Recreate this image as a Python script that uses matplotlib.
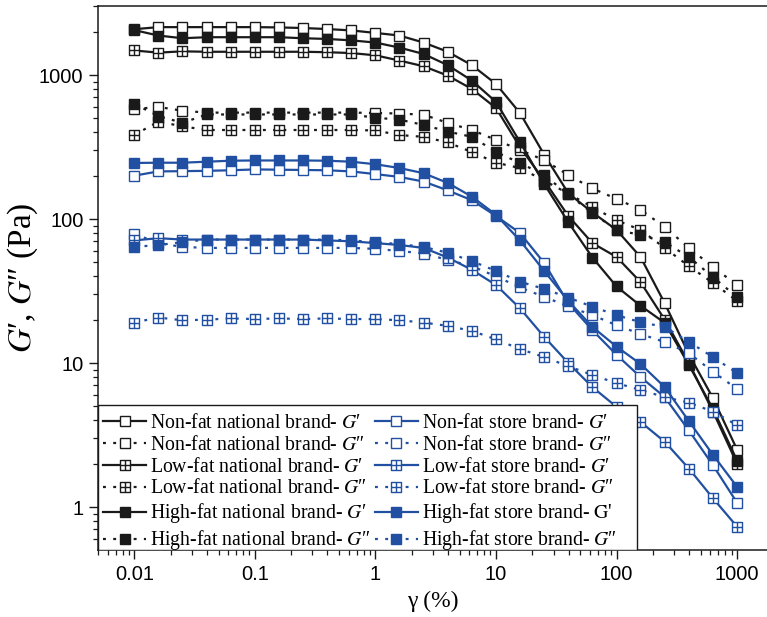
import matplotlib
matplotlib.use("Agg")
import matplotlib.pyplot as plt
from matplotlib.path import Path
from matplotlib.patches import Rectangle
from matplotlib.ticker import LogLocator, FixedLocator, FuncFormatter, NullFormatter

plt.rcParams["mathtext.fontset"] = "stix"

# Shear strain amplitude (%)
strain = [0.01, 0.0158, 0.0251, 0.0398, 0.0631, 0.1, 0.158, 0.251, 0.398, 0.631,
          1, 1.58, 2.51, 3.98, 6.31, 10, 15.8, 25.1, 39.8, 63.1,
          100, 158, 251, 398, 631, 1000]

# National brand moduli (Pa)
nf_nat_Gp = [2080, 2150, 2150, 2150, 2150, 2150, 2140, 2120, 2085, 2040,
             1960, 1880, 1680, 1450, 1170, 866, 545, 280, 151, 111,
             84, 54.5, 26, 11.5, 5.7, 2.5]
nf_nat_Gpp = [580, 600, 565, 548, 548, 548, 548, 548, 548, 548,
              545, 540, 530, 465, 415, 354, 302, 256, 202, 163,
              138, 116, 88, 63, 46.4, 34.8]
lf_nat_Gp = [1480, 1430, 1460, 1450, 1450, 1450, 1450, 1450, 1440, 1420,
             1370, 1260, 1150, 990, 800, 590, 316, 185, 105, 68,
             54.5, 36.5, 20, 10, 4.6, 2.0]
lf_nat_Gpp = [383, 475, 440, 415, 415, 415, 415, 415, 415, 415,
              412, 383, 372, 340, 292, 246, 226, 185, 150, 121,
              98, 84, 63, 47, 36, 27]
hf_nat_Gp = [2050, 1880, 1800, 1830, 1830, 1830, 1830, 1800, 1780, 1740,
             1680, 1550, 1400, 1170, 915, 650, 343, 175, 95, 54,
             34, 25, 19, 9.7, 4.8, 2.1]
hf_nat_Gpp = [629, 520, 465, 532, 532, 532, 532, 532, 532, 532,
              505, 490, 450, 405, 372, 292, 245, 202, 148, 110,
              84, 77.5, 69, 54.5, 39.5, 28.7]

# Store brand moduli (Pa)
nf_st_Gp = [200, 214, 215, 216, 218, 221, 220, 219, 218, 214,
            205, 196, 182, 158, 135, 105, 80, 49.5, 26, 16.9,
            11.4, 8.0, 5.8, 3.4, 1.95, 1.07]
nf_st_Gpp = [79, 68, 64, 63, 63, 63, 63, 63, 63, 63,
             62, 60, 57.6, 52, 47, 40, 33.5, 28.8, 24.7, 21.5,
             18.3, 15.9, 14.0, 11.7, 8.7, 6.6]
lf_st_Gp = [71, 73.6, 72, 72, 72, 72, 72, 72, 71, 70,
            68, 66, 63, 54, 44.4, 34.8, 24, 15.2, 10, 6.8,
            4.96, 3.9, 2.84, 1.85, 1.15, 0.73]
lf_st_Gpp = [19.1, 20.7, 19.8, 20, 20.4, 20.2, 20.4, 20.2, 20.4, 20.2,
             20.2, 19.8, 19.1, 18.1, 16.7, 14.6, 12.5, 11.0, 9.5, 8.25,
             7.25, 6.5, 5.8, 5.3, 4.6, 3.7]
hf_st_Gp = [245, 246, 246, 250, 254, 255, 255, 255, 254, 250,
            240, 226, 208, 178, 143, 107, 71, 43.6, 27, 17.8,
            13, 9.85, 6.8, 3.95, 2.3, 1.38]
hf_st_Gpp = [64, 66, 69, 72, 72, 72, 72, 72, 72, 71,
             69, 67, 64, 58.3, 51, 43.6, 36.7, 32.7, 28.5, 24.6,
             21.5, 19.2, 17.8, 14.0, 11.0, 8.5]

BLACK = "#1a1a1a"
BLUE = "#2150a2"

# Square with a centred cross (low-fat samples)
cross_square = Path(
    [(-1, -1), (1, -1), (1, 1), (-1, 1), (-1, -1), (0, -1), (0, 1), (-1, 0), (1, 0)],
    [Path.MOVETO, Path.LINETO, Path.LINETO, Path.LINETO, Path.CLOSEPOLY,
     Path.MOVETO, Path.LINETO, Path.MOVETO, Path.LINETO],
)

SOLID = "-"
DOTTED = (0, (1.3, 3.3))

G1 = "$G$\u2032"
G2 = "$G$\u2033"

series = [
    ("Non-fat national brand- " + G1, nf_nat_Gp, BLACK, SOLID, "open"),
    ("Non-fat national brand- " + G2, nf_nat_Gpp, BLACK, DOTTED, "open"),
    ("Low-fat national brand- " + G1, lf_nat_Gp, BLACK, SOLID, "cross"),
    ("Low-fat national brand- " + G2, lf_nat_Gpp, BLACK, DOTTED, "cross"),
    ("High-fat national brand- " + G1, hf_nat_Gp, BLACK, SOLID, "filled"),
    ("High-fat national brand- " + G2, hf_nat_Gpp, BLACK, DOTTED, "filled"),
    ("Non-fat store brand- " + G1, nf_st_Gp, BLUE, SOLID, "open"),
    ("Non-fat store brand- " + G2, nf_st_Gpp, BLUE, DOTTED, "open"),
    ("Low-fat store brand- " + G1, lf_st_Gp, BLUE, SOLID, "cross"),
    ("Low-fat store brand- " + G2, lf_st_Gpp, BLUE, DOTTED, "cross"),
    ("High-fat store brand- $\\mathrm{G}$'", hf_st_Gp, BLUE, SOLID, "filled"),
    ("High-fat store brand- " + G2, hf_st_Gpp, BLUE, DOTTED, "filled"),
]

fig = plt.figure(figsize=(7.67, 6.17), dpi=100)
ax = fig.add_axes([0.1278, 0.1086, 0.8722, 0.8817])
ax.set_xscale("log")
ax.set_yscale("log")

handles = []
for label, vals, color, ls, kind in series:
    marker = cross_square if kind == "cross" else "s"
    face = color if kind == "filled" else "white"
    (ln,) = ax.plot(strain, vals, color=color, linestyle=ls, linewidth=1.6,
                    marker=marker, markersize=7.5, markerfacecolor=face,
                    markeredgecolor=color, markeredgewidth=1.0, label=label)
    handles.append(ln)

ax.set_xlim(0.005, 1770)
ax.set_ylim(0.503, 3015)

ax.xaxis.set_major_locator(FixedLocator([0.01, 0.1, 1, 10, 100, 1000]))
ax.yaxis.set_major_locator(FixedLocator([1, 10, 100, 1000]))
fmt = FuncFormatter(lambda v, pos: f"{v:g}")
ax.xaxis.set_major_formatter(fmt)
ax.yaxis.set_major_formatter(fmt)
for axis in (ax.xaxis, ax.yaxis):
    axis.set_minor_locator(LogLocator(base=10, subs=range(2, 10), numticks=20))
    axis.set_minor_formatter(NullFormatter())

ax.tick_params(which="major", direction="out", length=6.5, width=1.0,
               labelsize=14.5, pad=4, color=BLACK)
ax.tick_params(which="minor", direction="out", length=3.6, width=0.9, color=BLACK)
for lab in ax.get_xticklabels() + ax.get_yticklabels():
    lab.set_fontfamily("Liberation Sans")

ax.spines["right"].set_visible(False)
for s in ("left", "bottom", "top"):
    ax.spines[s].set_linewidth(1.1)
    ax.spines[s].set_color(BLACK)

ax.set_xlabel("γ (%)", fontfamily="Liberation Serif", fontsize=17)
ax.xaxis.set_label_coords(0.5, -0.075)
ax.set_ylabel("$G$\u2032, $G$\u2033 (Pa)", fontfamily="Liberation Serif", fontsize=24)
ax.yaxis.set_label_coords(-0.087, 0.5)

# Legend box: white panel with a thin frame in the lower-left corner
panel = Rectangle((0, 0), 0.806, 0.2665, transform=ax.transAxes,
                  facecolor="white", edgecolor=BLACK, linewidth=1.0, zorder=4.9)
ax.add_patch(panel)

leg = ax.legend(handles=handles, ncol=2, loc="lower left",
                bbox_to_anchor=(0.0, -0.0135), borderaxespad=0, frameon=False,
                prop={"family": "Liberation Serif", "size": 14.2},
                handlelength=2.2, handletextpad=0.2, columnspacing=0.2,
                labelspacing=0.15, borderpad=0.25)

fig.savefig("out.png", dpi=100)
